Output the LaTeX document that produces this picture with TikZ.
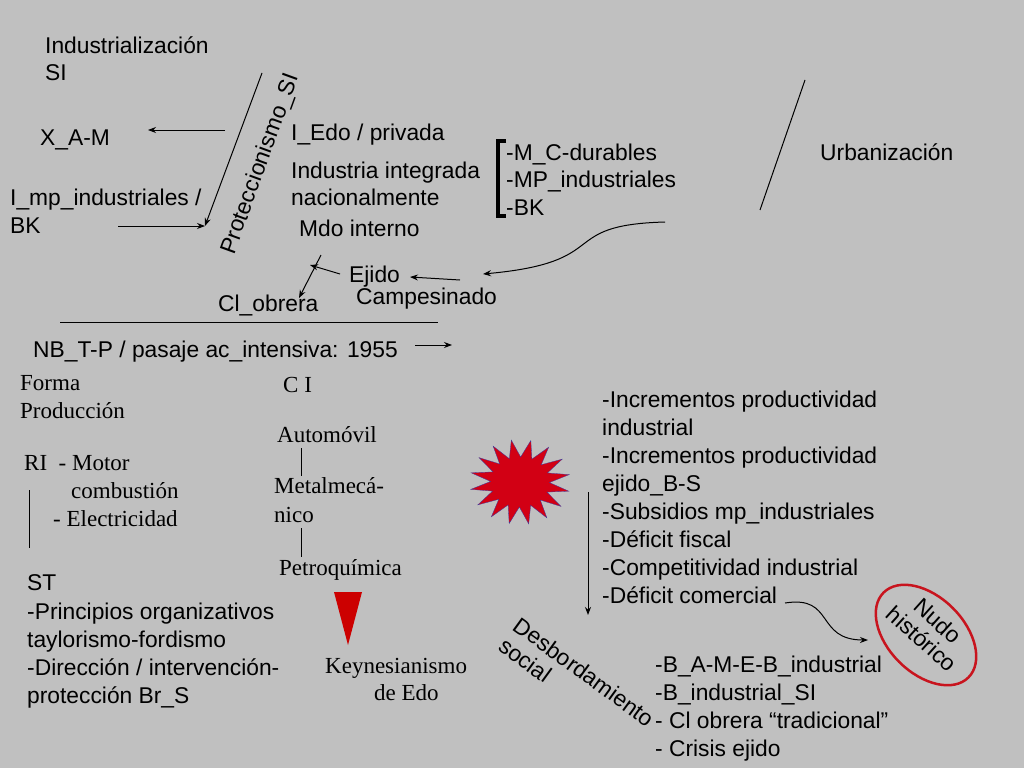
\documentclass[tikz,border=0pt]{standalone}
\usepackage{fontspec}
\setmainfont{Liberation Sans}
\newfontfamily\serf{Liberation Serif}
\usetikzlibrary{shapes.geometric,arrows.meta}
\begin{document}
\begin{tikzpicture}[x=1pt,y=-1pt,
  t/.style={anchor=base west,inner sep=0pt,font=\fontsize{22.8}{28}\selectfont},
  s/.style={anchor=base west,inner sep=0pt,font=\serf\fontsize{23}{28}\selectfont},
  ar/.style={-{Stealth[length=8pt,width=6pt]},line width=1pt},
  ln/.style={line width=1pt}]
\fill[fill={rgb,255:red,192;green,192;blue,192}] (0,0) rectangle (1024,768);
\useasboundingbox (0,0) rectangle (1024,768);
% top left
\node[t] (ind) at (45,53) {Industrialización};
\node[t] (si) at (45,80) {SI};
\node[t] (xam) at (40,145) {X\_A-M};
\coordinate (xa1) at (225,130); \coordinate (xa2) at (148,130);
\draw[ar] (xa1) -- (xa2);
\node[t] (imp) at (10,205) {I\_mp\_industriales /};
\node[t] (bk) at (10,233) {BK};
\coordinate (im1) at (118,226); \coordinate (im2) at (205,226);
\draw[ar] (im1) -- (im2);
\coordinate (p1) at (262,73); \coordinate (p2) at (205,226);
\draw[ar] (p1) -- (p2);
\node[inner sep=0pt,rotate=70,font=\fontsize{22.8}{28}\selectfont] (prot) at (261,164) {Proteccionismo\_SI};
\node[t] (iedo) at (291,140) {I\_Edo / privada};
\node[t] (indint) at (291,178) {Industria integrada};
\node[t] (nac) at (291,205) {nacionalmente};
\node[t] (mdo) at (299,236) {Mdo interno};
\draw[line width=3.5pt] (506,141) -- (498,141) -- (498,216) -- (506,216);
\node[t] (mc) at (506,160) {-M\_C-durables};
\node[t] (mp) at (506,187) {-MP\_industriales};
\node[t] (bk2) at (506,215) {-BK};
\coordinate (c1) at (665,222); \coordinate (c2) at (483,274);
\draw[ar] (c1) .. controls (555,225) and (615,262) .. (c2);
\node[t] (ejido) at (349,282) {Ejido};
\coordinate (e1) at (460,280); \coordinate (e2) at (410,277);
\draw[ar] (e1) -- (e2);
\node[t] (camp) at (356,304) {Campesinado};
\coordinate (x1) at (321,255); \coordinate (x2) at (299,298);
\draw[ar] (x1) -- (x2);
\coordinate (y1) at (340,274); \coordinate (y2) at (310,265);
\draw[ar] (y1) -- (y2);
\node[t] (clo) at (218,311) {Cl\_obrera};
\coordinate (h1) at (60,322); \coordinate (h2) at (438,322);
\draw[ln] (h1) -- (h2);
\node[t] (nb) at (33,357) {NB\_T-P / pasaje ac\_intensiva: 1955};
\coordinate (n1) at (415,345); \coordinate (n2) at (452,345);
\draw[ar] (n1) -- (n2);
\coordinate (u1) at (805,80); \coordinate (u2) at (760,210);
\draw[ln] (u1) -- (u2);
\node[t] (urb) at (820,160) {Urbanización};
% serif part
\node[s] (forma) at (20,390) {Forma};
\node[s] (prod) at (20,418) {Producción};
\node[s] (ci) at (283,392) {C I};
\node[s] (auto) at (277,442) {Automóvil};
\coordinate (a1) at (301,448); \coordinate (a2) at (301,476);
\draw[line width=0.7pt] (a1) -- (a2);
\node[s] (met) at (274,493) {Metalmecá-};
\node[s] (nico) at (274,522) {nico};
\coordinate (m1) at (301,528); \coordinate (m2) at (301,557);
\draw[line width=0.7pt] (m1) -- (m2);
\node[s] (petro) at (279,575) {Petroquímica};
\node[s] (ri) at (24,470) {RI\ \ - Motor};
\node[s] (comb) at (71,498) {combustión};
\node[s] (elec) at (53,526) {- Electricidad};
\coordinate (r1) at (29,490); \coordinate (r2) at (29,548);
\draw[line width=0.7pt] (r1) -- (r2);
\fill[red!80!black] (334,592) -- (362,592) -- (348,645) -- cycle;
\node[s] (key) at (325,673) {Keynesianismo};
\node[s] (dedo) at (374,700) {de Edo};
% ST
\node[t] (st) at (27,590) {ST};
\node[t] (st1) at (27,619) {-Principios organizativos};
\node[t] (st2) at (27,647) {taylorismo-fordismo};
\node[t] (st3) at (27,675) {-Dirección / intervención-};
\node[t] (st4) at (27,703) {protección Br\_S};
% right list
\node[t] (r01) at (602,407) {-Incrementos productividad};
\node[t] (r02) at (602,435) {industrial};
\node[t] (r03) at (602,463) {-Incrementos productividad};
\node[t] (r04) at (602,491) {ejido\_B-S};
\node[t] (r05) at (602,519) {-Subsidios mp\_industriales};
\node[t] (r06) at (602,547) {-Déficit fiscal};
\node[t] (r07) at (602,575) {-Competitividad industrial};
\node[t] (r08) at (602,603) {-Déficit comercial};
\node[star,star points=16,star point ratio=1.7,minimum size=100pt,inner sep=0pt,
  fill={rgb,255:red,210;green,0;blue,20},draw={rgb,255:red,60;green,60;blue,160},line width=0.3pt,
  yscale=0.85,rotate=10] (burst) at (520,482) {};
\coordinate (d1) at (588,492); \coordinate (d2) at (588,615);
\draw[ar] (d1) -- (d2);
\coordinate (k1) at (785,603); \coordinate (k2) at (868,640);
\draw[ar] (k1) .. controls (835,595) and (815,640) .. (k2);
\node[ellipse,draw={rgb,255:red,200;green,20;blue,30},line width=2.5pt,minimum width=120pt,minimum height=76pt,rotate=-45] (nudo) at (926,635) {};
\node[rotate=-42,align=center,inner sep=0pt,font=\fontsize{22.8}{24}\selectfont] (nudot) at (930,630) {Nudo\\histórico};
\node[rotate=-36,align=left,inner sep=0pt,font=\fontsize{22.8}{25}\selectfont] (desb) at (577,682) {Desbordamiento\\social};
\node[t] (b1) at (655,672) {-B\_A-M-E-B\_industrial};
\node[t] (b2) at (655,700) {-B\_industrial\_SI};
\node[t] (b3) at (655,728) {- Cl obrera “tradicional”};
\node[t] (b4) at (655,756) {- Crisis ejido};
\end{tikzpicture}
\end{document}
